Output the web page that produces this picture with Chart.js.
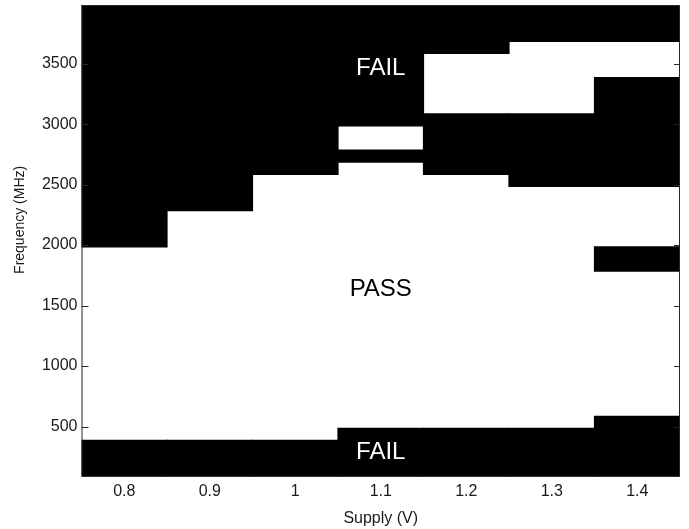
<!DOCTYPE html>
<html>
<head>
<meta charset="utf-8">
<script src="https://cdn.jsdelivr.net/npm/chart.js@4.4.1/dist/chart.umd.min.js"></script>
<style>
  body { margin: 0; background: #fff; }
  #wrap { width: 689px; height: 529px; }
</style>
</head>
<body>
<div id="wrap"><canvas id="shmoo" width="689" height="529"></canvas></div>
<script>
const supplyVolts = ["0.8", "0.9", "1", "1.1", "1.2", "1.3", "1.4"];
const freqTicks = [500, 1000, 1500, 2000, 2500, 3000, 3500];
const freqMin = 85;
const freqMax = 3985;

// fail bands per supply column as [low, high] MHz, null = none
const failLow = [[85, 385], [85, 385], [85, 385], [85, 485], [85, 485], [85, 485], [85, 585]];
const failIsland = [null, null, null, null, null, null, [1785, 1985]];
const failMid = [null, null, null, [2685, 2785], [2585, 3085], [2485, 3085], [2485, 3385]];
const failHigh = [[1985, 3985], [2285, 3985], [2585, 3985], [2985, 3985], [3585, 3985], [3685, 3985], [3685, 3985]];

// region labels
const regionText = ["FAIL", "PASS", "FAIL"];
const regionVolt = ["1.1", "1.1", "1.1"];
const regionFreq = [3460, 1630, 290];

const FONT = '"Liberation Sans", Arial, Helvetica, sans-serif';
Chart.defaults.font.family = FONT;
Chart.defaults.color = "#1a1a1a";

function band(data) {
  return {
    data: data,
    backgroundColor: "#000",
    borderWidth: 0,
    inflateAmount: 0.6,
    grouped: false,
    barPercentage: 1,
    categoryPercentage: 1,
  };
}

// frame, inward ticks and the FAIL/PASS text
const shmooDecor = {
  id: "shmooDecor",
  afterDatasetsDraw(chart) {
    const { ctx, chartArea: a, scales } = chart;
    ctx.save();
    ctx.strokeStyle = "#262626";
    ctx.lineWidth = 1;
    ctx.strokeRect(a.left + 0.5, a.top + 0.5, a.right - a.left - 1, a.bottom - a.top - 1);
    ctx.beginPath();
    freqTicks.forEach((f) => {
      const py = Math.round(scales.y.getPixelForValue(f)) + 0.5;
      ctx.moveTo(a.left, py);
      ctx.lineTo(a.left + 7, py);
      ctx.moveTo(a.right - 6, py);
      ctx.lineTo(a.right, py);
    });
    ctx.stroke();

    ctx.font = "24px " + FONT;
    ctx.textAlign = "center";
    ctx.textBaseline = "middle";
    regionText.forEach((t, i) => {
      ctx.fillStyle = t === "FAIL" ? "#fff" : "#000";
      ctx.fillText(
        t,
        scales.x.getPixelForValue(supplyVolts.indexOf(regionVolt[i])),
        scales.y.getPixelForValue(regionFreq[i])
      );
    });
    ctx.restore();
  },
};

new Chart(document.getElementById("shmoo"), {
  type: "bar",
  data: {
    labels: supplyVolts,
    datasets: [band(failLow), band(failIsland), band(failMid), band(failHigh)],
  },
  options: {
    responsive: false,
    animation: false,
    layout: { padding: { top: 5, right: 9, left: 0, bottom: 0 } },
    plugins: {
      legend: { display: false },
      tooltip: { enabled: false },
    },
    scales: {
      x: {
        type: "category",
        offset: true,
        grid: { display: false, drawTicks: false },
        border: { display: false },
        ticks: { font: { size: 16 }, padding: 5, maxRotation: 0 },
        title: {
          display: true,
          text: "Supply (V)",
          font: { size: 16 },
          padding: { top: 0, bottom: 1 },
        },
        afterFit(scale) {
          scale.height = 52.3;
          scale.paddingLeft = 0;
          scale.paddingRight = 0;
        },
      },
      y: {
        type: "linear",
        min: freqMin,
        max: freqMax,
        grid: { display: false, drawTicks: false },
        border: { display: false },
        ticks: {
          font: { size: 16 },
          padding: 4,
          callback: (v) => String(v),
        },
        afterBuildTicks(scale) {
          scale.ticks = freqTicks.map((v) => ({ value: v }));
        },
        title: {
          display: true,
          text: "\u2003\u2003\u2003Frequency (MHz)",
          font: { size: 14 },
          padding: { top: 12, bottom: 0 },
        },
        afterFit(scale) {
          scale.width = 81.5;
          scale.paddingTop = 0;
          scale.paddingBottom = 0;
        },
      },
    },
  },
  plugins: [shmooDecor],
});
</script>
</body>
</html>
